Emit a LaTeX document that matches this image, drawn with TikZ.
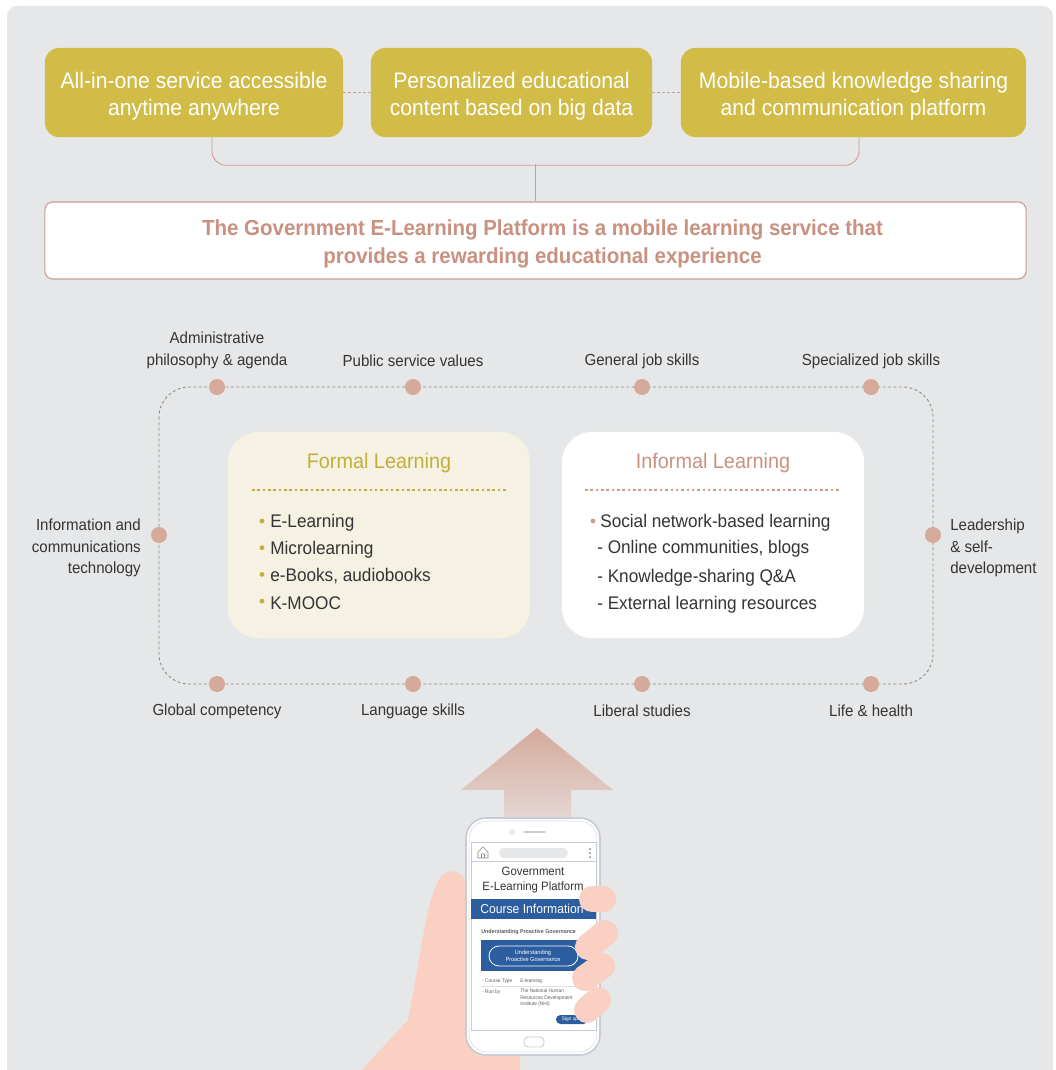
\documentclass[tikz,border=0pt]{standalone}
\usepackage{fontspec}
\setmainfont{Liberation Sans}[FakeStretch=0.94]
\usetikzlibrary{positioning,calc}
\definecolor{bggrey}{RGB}{230,231,232}
\definecolor{mustard}{RGB}{209,188,72}
\definecolor{mustarddark}{RGB}{196,174,58}
\definecolor{rosy}{RGB}{204,156,140}
\definecolor{rosytext}{RGB}{201,146,128}
\definecolor{dotrose}{RGB}{214,170,154}
\definecolor{cream}{RGB}{245,242,227}
\definecolor{ink}{RGB}{52,52,52}
\definecolor{ringgrey}{RGB}{135,135,135}
\definecolor{appblue}{RGB}{44,93,158}
\definecolor{peach}{RGB}{249,208,194}
\definecolor{arrowtop}{RGB}{212,170,154}
\definecolor{arrowbot}{RGB}{232,226,226}
\definecolor{phonegrey}{RGB}{200,204,212}
\newcommand{\lowered}[2]{\raisebox{-2.5pt}[\height][\depth]{\parbox{#1}{\centering #2}}}
\tikzset{
  topbox/.style={fill=mustard,rounded corners=0.35cm,text=white,align=center,inner sep=0pt,minimum height=2.225cm,font=\fontsize{16}{19.5}\selectfont},
  msgbox/.style={draw=rosy,fill=white,rounded corners=0.2cm,line width=0.8pt,align=center,inner sep=0pt,minimum width=24.525cm,minimum height=1.925cm,text=rosytext,font=\bfseries\fontsize{15.5}{20}\selectfont},
  learnbox/.style={rounded corners=0.75cm,inner sep=0pt,minimum width=7.55cm,minimum height=5.15cm},
  ttl/.style={font=\fontsize{15}{18}\selectfont,inner sep=0pt},
  item/.style={anchor=west,inner sep=0pt,text=ink,font=\fontsize{13}{16}\selectfont},
  ringdot/.style={circle,fill=dotrose,minimum size=0.4cm,inner sep=0pt},
  lab/.style={text=ink,align=center,inner sep=0pt,font=\fontsize{11.4}{15.5}\selectfont},
  link/.style={draw=rosy,line width=0.6pt},
  dashlink/.style={draw=rosy,line width=0.6pt,dash pattern=on 2pt off 1.5pt},
  divider/.style={line width=0.8pt,dash pattern=on 1.8pt off 2pt},
  ring/.style={draw=ringgrey,line width=0.6pt,dash pattern=on 2pt off 1.8pt,rounded corners=0.75cm},
  finger/.style={draw=peach,line width=0.65cm,line cap=round},
  tiny/.style={inner sep=0pt,text=ink!80,font=\fontsize{3.6}{4.6}\selectfont}
}
\begin{document}
\begin{tikzpicture}[x=0.025cm,y=-0.025cm]
  \useasboundingbox (0,0) rectangle (1055,1070);
  % grey panel
  \fill[bggrey,rounded corners=0.25cm] (7,6) rectangle (1053,1090);

  % three feature boxes
  \node[topbox,minimum width=7.45cm] (allinone) at (194,92.5) {\lowered{7cm}{All-in-one service accessible\\anytime anywhere}};
  \node[topbox,minimum width=7.025cm] (bigdata) at (511.5,92.5) {\lowered{6.8cm}{Personalized educational\\content based on big data}};
  \node[topbox,minimum width=8.625cm] (mobile) at (853.5,92.5) {\lowered{8.4cm}{Mobile-based knowledge sharing\\and communication platform}};
  \draw[dashlink] (allinone.east) -- (bigdata.west);
  \draw[dashlink] (bigdata.east) -- (mobile.west);

  % platform statement
  \node[msgbox] (platform) at (535.5,240.5) {\hspace*{0.35cm}\lowered{23cm}{The Government E-Learning Platform is a mobile learning service that\\provides a rewarding educational experience}};
  \draw[link,rounded corners=0.35cm] ($(allinone.south)+(18,0)$) -- ++(0,28) -| ($(mobile.south)+(5.5,0)$);
  \draw[link] (platform.north) -- ++(0,-37);

  % ring of competencies
  \draw[ring] (159,387) rectangle (933,684);
  \foreach \x/\n in {217/1,413/2,642/3,871/4} {
    \node[ringdot] (top\n) at (\x,387) {};
    \node[ringdot] (bot\n) at (\x,684) {};
  }
  \node[ringdot] (lft) at (159,535) {};
  \node[ringdot] (rgt) at (933,535) {};
  \node[lab] at (217,350) {Administrative\\philosophy \& agenda};
  \node[lab] at (413,361) {Public service values};
  \node[lab] at (642,361) {General job skills};
  \node[lab] at (871,361) {Specialized job skills};
  \node[lab] at (217,711) {Global competency};
  \node[lab] at (413,711) {Language skills};
  \node[lab] at (642,711) {Liberal studies};
  \node[lab] at (871,711) {Life \& health};
  \node[lab,align=right,anchor=east] at (141,548) {Information and\\communications\\technology};
  \node[lab,align=left,anchor=west] at (950,548) {Leadership\\\& self-\\development};

  % formal learning
  \node[learnbox,fill=cream] (formal) at (379,535) {};
  \node[ttl,text=mustarddark] (formalttl) at (379,463) {Formal Learning};
  \draw[mustarddark,divider] (252,490) -- (508,490);
  \foreach \t [count=\i] in {E-Learning,Microlearning,{e-Books, audiobooks},K-MOOC} {
    \fill[mustarddark] (262,{522+26.7*(\i-1)-1}) circle (0.06cm);
    \node[item] at (270,{523+26.7*(\i-1)}) {\t};
  }

  % informal learning
  \node[learnbox,fill=white] (informal) at (713,535) {};
  \node[ttl,text=rosytext] (informalttl) at (713,463) {Informal Learning};
  \draw[rosy,divider] (585,490) -- (841,490);
  \fill[rosy] (593,521) circle (0.06cm);
  \node[item] at (600,523) {Social network-based learning};
  \node[item] at (597,549) {- Online communities, blogs};
  \node[item] at (597,578) {- Knowledge-sharing Q\&A};
  \node[item] at (597,605) {- External learning resources};

  % upward arrow
  \shade[top color=arrowtop,bottom color=arrowbot] (537,728) -- (613,790) -- (571,790) -- (571,840) -- (504,840) -- (504,790) -- (461,790) -- cycle;

  % hand
  \fill[peach] (357,1075) -- (408,1020) .. controls (420,960) and (426,905) .. (437,884)
    .. controls (443,866) and (465,866) .. (468,890) -- (520,1040) -- (520,1075) -- cycle;

  % phone
  \draw[phonegrey,fill=white,line width=1.2pt,rounded corners=0.5cm] (466,818) rectangle (600,1055);
  \draw[phonegrey!60,line width=0.5pt,rounded corners=0.45cm] (469,821) rectangle (597,1052);
  \draw[phonegrey,line width=0.6pt] (471,842) rectangle (596,1030);
  \draw[phonegrey,line width=0.5pt] (512,832) circle (0.05cm);
  \draw[phonegrey,line width=1pt,line cap=round] (524,832) -- (545,832);
  \draw[phonegrey,line width=0.6pt,rounded corners=0.1cm] (524,1037) rectangle (544,1047);
  % browser bar
  \draw[phonegrey,line width=0.5pt] (471,861) -- (596,861);
  \draw[ringgrey,line width=0.4pt] (478,858) -- (478,852) -- (483,847) -- (488,852) -- (488,858) -- cycle (481.5,858) -- (481.5,854) -- (484.5,854) -- (484.5,858);
  \fill[bggrey,rounded corners=0.12cm] (499,848) rectangle (568,858);
  \foreach \y in {849,853,857} \fill[ringgrey] (590,\y) circle (0.025cm);
  % screen content
  \node[inner sep=0pt,align=center,text=ink,font=\fontsize{8.6}{10}\selectfont] (apptitle) at (533,880) {Government\\E-Learning Platform};
  \fill[appblue] (471,899) rectangle (596,919);
  \node[inner sep=0pt,anchor=west,text=white,font=\fontsize{9.2}{11}\selectfont] (course) at (480,909) {Course Information};
  \node[tiny,anchor=west,font=\bfseries\fontsize{4}{5}\selectfont] (subject) at (481,932) {Understanding Proactive Governance};
  \fill[appblue] (481,940) rectangle (590,971);
  \draw[white,line width=0.6pt,rounded corners=0.25cm] (489,946) rectangle (578,966);
  \node[inner sep=0pt,align=center,text=white,font=\fontsize{4.2}{4.6}\selectfont] (badge) at (533,956) {Understanding\\Proactive Governance};
  \node[tiny,anchor=west] (ctype) at (482,981) {- Course Type};
  \node[tiny,anchor=west] (ctypev) at (520,981) {E-learning};
  \draw[phonegrey!60,line width=0.4pt] (481,986) -- (590,986);
  \node[tiny,anchor=west] (runby) at (482,992) {- Run by};
  \node[tiny,anchor=north west,align=left] (runbyv) at (520,989) {The National Human\\Resources Development\\Institute (NHI)};
  \fill[appblue,rounded corners=0.11cm] (556,1015) rectangle (588,1024);
  \node[inner sep=0pt,text=white,font=\fontsize{3.6}{4}\selectfont] (signup) at (570,1019.5) {Sign up};

  % fingers over the phone edge
  \draw[finger] (592,899) -- (603,899);
  \draw[finger] (588,947) -- (605,933);
  \draw[finger] (585,978) -- (602,966);
  \draw[finger] (587,1010) -- (598,1000);
\end{tikzpicture}
\end{document}
